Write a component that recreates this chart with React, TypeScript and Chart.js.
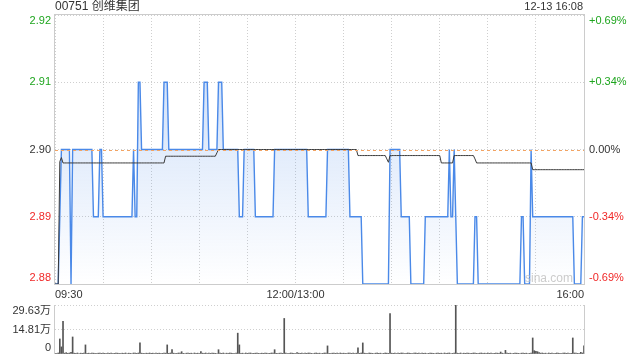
import React, { useEffect, useRef } from "react";
import { Chart, registerables } from "chart.js";

Chart.register(...registerables);

// ---------- data ----------
const TITLE = "00751 创维集团";
const STAMP = "12-13 16:08";
const WATERMARK = "sina.com";
const PREV_CLOSE = 2.9;
const LAST_MINUTE = 330; // 09:30-12:00 + 13:00-16:00

const timeTickMinutes = [0, 150, 330];
const timeTickLabels = ["09:30", "12:00/13:00", "16:00"];

const priceTicks = [2.88, 2.89, 2.9, 2.91, 2.92];
const volTicks = [0, 14.81, 29.63];
const volTickLabels = ["0", "14.81万", "29.63万"];

// last price: minute at which each new level starts, and that level
const priceStartMinutes = [
  0, 3, 4, 10, 11, 24, 28, 30, 49, 50, 52, 54, 68, 71, 93, 96, 102, 105, 115, 118,
  125, 137, 158, 170, 184, 192, 209, 216, 222, 231, 246, 247, 249, 250, 251, 262,
  264, 291, 293, 297, 298, 324, 329,
];
const priceLevels = [
  2.88, 2.89, 2.9, 2.88, 2.9, 2.89, 2.9, 2.89, 2.9, 2.89, 2.91, 2.9, 2.91, 2.9, 2.91, 2.9, 2.91, 2.9, 2.89, 2.9,
  2.89, 2.9, 2.89, 2.9, 2.89, 2.88, 2.9, 2.89, 2.88, 2.89, 2.9, 2.89, 2.9, 2.89, 2.88, 2.89,
  2.88, 2.89, 2.88, 2.9, 2.89, 2.88, 2.89,
];

// average price: minute at which each new level starts, and that level
const avgStartMinutes = [0, 3, 4, 5, 69, 101, 102, 189, 207, 208, 209, 241, 249, 262, 263, 298];
const avgLevels = [
  2.88, 2.8982, 2.8988, 2.898, 2.899, 2.8995, 2.9, 2.8991, 2.8986, 2.8981, 2.8991, 2.898, 2.8991, 2.8986, 2.898, 2.897,
];

// volume per minute, in 万 shares (minutes 0..330)
const volumes = [
  0.4, 0.3, 0.6, 9.1, 4.3, 19.7, 0.5, 0.8, 0.4, 0.6, 1.0, 10.3, 0.5, 0.4, 0.6, 0.3, 0.5, 0.4, 0.6, 5.5, 0.4, 0.5, 0.3, 0.6, 0.5, 0.4, 0.3, 0.5, 0.6, 0.4,
  0.5, 0.4, 0.3, 0.6, 0.4, 0.5, 0.3, 0.4, 0.6, 0.5, 0.4, 0.3, 0.5, 0.4, 0.6, 0.3, 0.5, 0.4, 0.3, 0.6, 0.5, 0.4, 0.6, 6.7, 0.5, 0.4, 0.3, 0.5, 0.4, 0.6,
  0.4, 0.5, 0.3, 0.6, 0.4, 0.5, 0.3, 0.4, 0.6, 0.5, 5.5, 0.4, 0.6, 2.6, 0.5, 0.3, 0.4, 0.6, 0.5, 1.4, 0.4, 0.3, 0.5, 0.6, 0.4, 0.5, 0.3, 0.6, 0.4, 0.5,
  0.3, 1.4, 0.5, 0.4, 0.6, 0.3, 0.5, 0.4, 0.6, 0.5, 0.4, 0.3, 2.6, 0.5, 0.4, 0.6, 0.3, 0.5, 0.4, 0.6, 0.5, 0.4, 0.3, 0.6, 12.6, 5.5, 0.4, 0.5, 0.3, 0.6,
  0.4, 0.5, 0.6, 0.3, 0.4, 0.5, 0.6, 0.4, 0.3, 0.5, 0.4, 0.6, 0.5, 0.3, 0.4, 0.6, 0.5, 2.6, 0.4, 0.3, 0.5, 0.6, 0.4, 21.5, 0.5, 0.3, 0.4, 0.6, 0.5, 0.4,
  0.3, 0.9, 0.5, 0.4, 0.6, 0.3, 0.5, 0.4, 0.6, 0.5, 0.4, 0.3, 0.5, 0.6, 0.4, 0.5, 0.3, 0.4, 0.6, 0.5, 4.9, 0.4, 0.3, 0.5, 0.6, 0.4, 0.5, 0.3, 0.6, 0.4,
  0.5, 0.4, 0.3, 0.6, 0.5, 0.4, 0.6, 0.3, 0.5, 3.7, 0.4, 0.6, 6.7, 0.5, 0.4, 0.3, 0.6, 0.5, 0.4, 0.3, 0.5, 0.6, 0.4, 0.5, 0.3, 0.4, 0.6, 0.5, 0.4, 24.5,
  0.5, 0.4, 0.6, 0.3, 0.5, 0.4, 0.6, 0.5, 0.3, 0.4, 0.6, 0.5, 0.4, 0.3, 0.5, 0.6, 0.4, 0.5, 0.3, 0.6, 0.4, 0.5, 0.3, 0.4, 0.6, 0.5, 0.4, 0.3, 0.5, 0.6,
  0.4, 0.5, 0.3, 0.6, 0.4, 0.5, 0.6, 0.3, 0.4, 0.5, 29.63, 0.5, 0.4, 0.6, 0.3, 0.5, 0.4, 0.6, 0.5, 0.3, 0.4, 0.6, 0.5, 0.4, 0.3, 0.5, 0.6, 0.4, 0.5, 0.3,
  0.6, 0.4, 0.5, 0.3, 0.4, 0.6, 0.5, 0.4, 1.2, 0.5, 0.3, 2.2, 0.6, 0.4, 0.5, 0.3, 0.4, 0.6, 0.5, 0.4, 0.3, 0.5, 0.6, 0.4, 0.5, 0.3, 0.4, 0.6, 9.7, 2.0,
  1.6, 1.4, 0.9, 0.5, 0.6, 0.4, 0.5, 0.3, 0.6, 0.4, 0.5, 0.3, 0.4, 0.6, 0.5, 0.4, 0.3, 0.5, 0.6, 0.4, 0.5, 0.3, 0.4, 9.7, 0.6, 0.5, 0.4, 0.3, 1.0, 0.6,
  4.9,
];

// ---------- styling ----------
const FONT = "Arial, 'Liberation Sans', 'Noto Sans CJK SC', sans-serif";
const GREEN = "#1ea51e";
const RED = "#f02828";
const DARK = "#333333";
const BORDER = "#cccccc";
const GRID = "#cfcfcf";
const BLUE = "#4a89e8";

function expandRuns(starts: number[], levels: number[], last: number): number[] {
  const out: number[] = [];
  let k = 0;
  for (let m = 0; m <= last; m++) {
    while (k + 1 < starts.length && starts[k + 1] <= m) k++;
    out.push(levels[k]);
  }
  return out;
}

function levelColor(v: number) {
  const d = Math.round((v - PREV_CLOSE) * 10000);
  return d > 0 ? GREEN : d < 0 ? RED : DARK;
}

function clampLabel(y: number, top: number, bottom: number) {
  return Math.min(Math.max(y, top + 6), bottom - 6);
}

const pricePlugin = {
  id: "pricePane",
  afterDatasetsDraw(chart: any) {
    const { ctx, chartArea: a, scales } = chart;
    const y = scales.y;
    const py = Math.round(y.getPixelForValue(PREV_CLOSE)) + 0.5;
    ctx.save();
    ctx.strokeStyle = "#f2a464";
    ctx.lineWidth = 1;
    ctx.setLineDash([3, 3]);
    ctx.beginPath();
    ctx.moveTo(a.left, py);
    ctx.lineTo(a.right, py);
    ctx.stroke();
    ctx.restore();
  },
  afterDraw(chart: any) {
    const { ctx, chartArea: a, scales } = chart;
    const y = scales.y;
    ctx.save();
    // frame
    ctx.strokeStyle = BORDER;
    ctx.lineWidth = 1;
    ctx.strokeRect(Math.round(a.left) - 0.5, Math.round(a.top) - 0.5, Math.round(a.right - a.left) + 1, Math.round(a.bottom - a.top) + 1);

    // y labels (left price, right percent)
    ctx.font = `11px ${FONT}`;
    ctx.textBaseline = "middle";
    priceTicks.forEach((v) => {
      const py = clampLabel(y.getPixelForValue(v), a.top, a.bottom);
      ctx.fillStyle = levelColor(v);
      ctx.textAlign = "right";
      ctx.fillText(v.toFixed(2), a.left - 4, py);
      const pct = ((v - PREV_CLOSE) / PREV_CLOSE) * 100;
      const txt = (pct > 0.0001 ? "+" : "") + (Math.abs(pct) < 0.0001 ? "0.00" : pct.toFixed(2)) + "%";
      ctx.textAlign = "left";
      ctx.fillText(txt, a.right + 5, py);
    });

    // title and stamp
    ctx.fillStyle = DARK;
    ctx.textAlign = "left";
    ctx.font = `12px ${FONT}`;
    ctx.fillText(TITLE, a.left, 7);
    ctx.textAlign = "right";
    ctx.font = `11px ${FONT}`;
    ctx.fillText(STAMP, a.right - 1, 7);

    // watermark
    ctx.fillStyle = "rgba(190,190,190,0.8)";
    ctx.font = `12px ${FONT}`;
    ctx.textAlign = "right";
    ctx.fillText(WATERMARK, a.right - 11, a.bottom - 5);
    ctx.restore();
  },
};

const volumePlugin = {
  id: "volPane",
  afterDraw(chart: any) {
    const { ctx, chartArea: a, scales } = chart;
    const y = scales.y;
    ctx.save();
    ctx.strokeStyle = BORDER;
    ctx.lineWidth = 1;
    ctx.beginPath();
    ctx.moveTo(Math.round(a.left) - 0.5, a.top);
    ctx.lineTo(Math.round(a.left) - 0.5, a.bottom);
    ctx.moveTo(Math.round(a.right) + 0.5, a.top);
    ctx.lineTo(Math.round(a.right) + 0.5, a.bottom);
    ctx.stroke();
    ctx.font = `11px ${FONT}`;
    ctx.fillStyle = DARK;
    ctx.textAlign = "right";
    ctx.textBaseline = "middle";
    volTicks.forEach((v, i) => {
      const py = clampLabel(y.getPixelForValue(v), a.top, a.bottom);
      ctx.fillText(volTickLabels[i], a.left - 4, py);
    });
    ctx.restore();
  },
};

export default function App() {
  const priceRef = useRef<HTMLCanvasElement>(null);
  const volRef = useRef<HTMLCanvasElement>(null);

  useEffect(() => {
    const price = expandRuns(priceStartMinutes, priceLevels, LAST_MINUTE);
    const avg = expandRuns(avgStartMinutes, avgLevels, LAST_MINUTE);
    const pricePts = price.map((v, i) => ({ x: i, y: v }));
    const avgPts = avg.map((v, i) => ({ x: i, y: v }));
    const volPts = volumes.map((v, i) => ({ x: i, y: v }));

    const c1 = new Chart(priceRef.current as HTMLCanvasElement, {
      type: "line",
      data: {
        datasets: [
          {
            data: avgPts,
            borderColor: "#3a3a3a",
            borderWidth: 1,
            pointRadius: 0,
            tension: 0,
            fill: false,
          },
          {
            data: pricePts,
            borderColor: BLUE,
            borderWidth: 1.4,
            pointRadius: 0,
            tension: 0,
            fill: "start",
            backgroundColor: (c: any) => {
              const a = c.chart.chartArea;
              if (!a) return "rgba(74,137,232,0.12)";
              const g = c.chart.ctx.createLinearGradient(0, a.top, 0, a.bottom);
              g.addColorStop(0, "rgba(74,137,232,0.32)");
              g.addColorStop(1, "rgba(74,137,232,0.0)");
              return g;
            },
          },
        ],
      },
      options: {
        responsive: false,
        animation: false,
        events: [],
        layout: { padding: { left: 55, right: 56, top: 15, bottom: 0 } },
        plugins: { legend: { display: false }, tooltip: { enabled: false } },
        scales: {
          x: {
            type: "linear",
            min: 0,
            max: LAST_MINUTE,
            grid: { color: GRID, drawTicks: false },
            border: { display: false, dash: [1, 2] },
            ticks: {
              stepSize: 30,
              autoSkip: false,
              maxRotation: 0,
              align: "inner",
              padding: 4,
              color: DARK,
              font: { size: 11, family: FONT },
              callback: (v: any) => {
                const i = timeTickMinutes.indexOf(Number(v));
                return i >= 0 ? timeTickLabels[i] : "";
              },
            },
            afterFit: (s: any) => {
              s.height = 16;
            },
          },
          y: {
            min: priceTicks[0],
            max: priceTicks[priceTicks.length - 1],
            grid: { color: GRID, drawTicks: false },
            border: { display: false, dash: [1, 2] },
            ticks: { display: false },
            afterBuildTicks: (s: any) => {
              s.ticks = priceTicks.map((v) => ({ value: v }));
            },
          },
        },
      },
      plugins: [pricePlugin],
    } as any);

    const c2 = new Chart(volRef.current as HTMLCanvasElement, {
      type: "bar",
      data: {
        datasets: [
          {
            data: volPts,
            backgroundColor: "#555555",
            borderWidth: 0,
            barThickness: 1,
          },
        ],
      },
      options: {
        responsive: false,
        animation: false,
        events: [],
        layout: { padding: { left: 55, right: 56, top: 5, bottom: 6 } },
        plugins: { legend: { display: false }, tooltip: { enabled: false } },
        scales: {
          x: {
            type: "linear",
            min: 0,
            max: LAST_MINUTE,
            offset: false,
            display: false,
          },
          y: {
            min: volTicks[0],
            max: volTicks[volTicks.length - 1],
            grid: {
              drawTicks: false,
              color: (c: any) => (c.tick && c.tick.value === 0 ? "rgba(0,0,0,0)" : GRID),
            },
            border: { display: false, dash: [1, 2] },
            ticks: { display: false },
            afterBuildTicks: (s: any) => {
              s.ticks = volTicks.map((v) => ({ value: v }));
            },
          },
        },
      },
      plugins: [volumePlugin],
    } as any);

    return () => {
      c1.destroy();
      c2.destroy();
    };
  }, []);

  return (
    <div style={{ position: "absolute", left: 0, top: 0, width: 640, height: 360, background: "#fff" }}>
      <canvas ref={priceRef} width={640} height={300} style={{ position: "absolute", left: 0, top: 0, display: "block" }} />
      <canvas ref={volRef} width={640} height={60} style={{ position: "absolute", left: 0, top: 300, display: "block" }} />
    </div>
  );
}
